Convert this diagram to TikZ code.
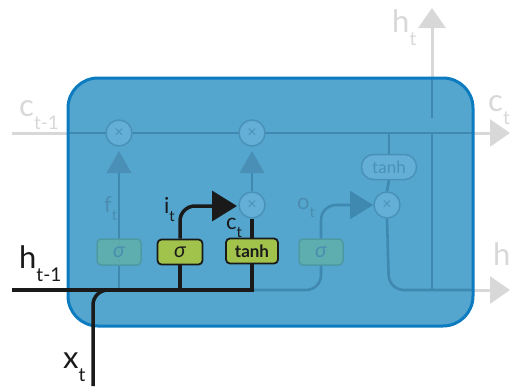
\documentclass[tikz,border=0pt]{standalone}
\usepackage{fontspec}
\setmainfont{Lato}
\usetikzlibrary{arrows.meta}
\definecolor{gry}{HTML}{D8D8D8}
\definecolor{boxfill}{HTML}{54A6CF}
\definecolor{boxedge}{HTML}{0C7BC0}
\definecolor{inln}{HTML}{3F88B0}
\definecolor{incirc}{HTML}{63AFD7}
\definecolor{incircd}{HTML}{4A91B8}
\definecolor{intri}{HTML}{4A8FB5}
\definecolor{fgfill}{HTML}{60AFAC}
\definecolor{fgdraw}{HTML}{4D9AA3}
\definecolor{fgtext}{HTML}{4A8DB0}
\definecolor{grn}{HTML}{A2C34B}
\definecolor{dk}{HTML}{1A1A1A}
\newcommand\lbsub[2]{#1\raisebox{-0.42em}{\fontsize{19}{19}\selectfont #2}}
\newcommand\smsub[2]{#1\raisebox{-0.4em}{\fontsize{15}{15}\selectfont #2}}
\begin{document}
\begin{tikzpicture}[x=1pt,y=-1pt,
  gline/.style={draw=gry,line width=3pt},
  iline/.style={draw=inln,line width=2.6pt},
  bline/.style={draw=dk,line width=3.5pt},
  gtip/.style={-{Triangle[length=20pt,width=27pt]}},
  mult/.style={circle,draw=incircd,fill=incirc,line width=1.5pt,minimum size=26pt,inner sep=0pt,text=incircd,font=\fontsize{16}{16}\selectfont},
  faintbox/.style={rectangle,rounded corners=4pt,draw=fgdraw,fill=fgfill,fill opacity=0.9,text opacity=1,line width=1.5pt,minimum width=44pt,minimum height=26pt,inner sep=0pt,text=fgtext,font=\itshape\fontsize{21}{21}\selectfont},
  gbox/.style={rectangle,rounded corners=4pt,draw=dk,fill=grn,line width=1.8pt,minimum height=25pt,inner sep=0pt,text=dk},
  biglbl/.style={inner sep=0pt,anchor=base west,font=\fontsize{31}{31}\selectfont},
  smlbl/.style={inner sep=0pt,anchor=base west,font=\fontsize{22}{22}\selectfont},
]
\useasboundingbox (0,0) rectangle (511,386);
% outer grey lines
\coordinate (cin) at (12,133);
\coordinate (cout) at (510,133);
\coordinate (htop) at (432,8);
\coordinate (hout) at (510,290);
\draw[gline,gtip] (cin) -- (cout);
\draw[gline,gtip] (432,90) -- (htop);
\draw[gline,gtip] (460,290) -- (hout);
% box
\node[draw=none,fill=boxfill,rounded corners=30pt,minimum width=405pt,minimum height=248pt,inner sep=0pt] (cell) at (270.5,202) {};
% inner lines
\draw[iline] (68,133) -- (473,133);
\draw[iline] (432,290) -- (432,133);
\draw[iline] (432,78) -- (432,118);
% forget gate
\node[mult] (fx) at (119,133) {×};
\fill[intri] (106.5,173) -- (119,151) -- (131.5,173) -- cycle;
\draw[iline] (119,290) -- (119,173);
\node[faintbox] (fs) at (119,252) {σ};
% input gate cross
\node[mult] (ix) at (252,133) {×};
\fill[intri] (239.5,173) -- (252,151) -- (264.5,173) -- cycle;
\node[mult] (cx) at (252,205) {×};
\draw[iline] (cx.north) -- (252,173);
% output gate
\node[faintbox] (os) at (321,252) {σ};
\draw[iline,rounded corners=15pt] (253,290) -- (321,290) -- (os.south);
\draw[iline,rounded corners=15pt,-{Triangle[length=23pt,width=28pt]}] (os.north) -- (321,205) -- (373,205);
\node[mult] (ox) at (387,205) {×};
\node[rectangle,rounded corners=12pt,draw=incircd,fill=incirc,line width=1.5pt,minimum width=55pt,minimum height=25pt,inner sep=0pt,text=incircd,font=\fontsize{17}{17}\selectfont] (tp) at (389,167) {tanh};
\draw[iline] (389,133) -- (tp.north);
\draw[iline] (tp.south) -- (ox.north);
\draw[iline,rounded corners=15pt] (ox.south) -- (389,290) -- (473,290);
% box border
\draw[boxedge,line width=3pt,rounded corners=30pt] (68,78) rectangle (473,326);
% faint labels
\node[smlbl,text=fgtext] (flab) at (104,212) {\smsub{f}{t}};
\node[smlbl,text=fgtext] (olab) at (297,209) {\smsub{o}{t}};
% highlighted black paths
\coordinate (hin) at (12,290);
\coordinate (xin) at (93,386);
\node[gbox,minimum width=45pt,font=\itshape\fontsize{21}{21}\selectfont] (is) at (180,252) {σ};
\node[gbox,minimum width=52pt,font=\bfseries\fontsize{17}{17}\selectfont] (tb) at (252,251) {tanh};
\draw[bline] (hin) -- (252,290) -- (tb.south);
\draw[bline,rounded corners=15pt] (xin) -- (93,290) -- (125,290);
\draw[bline] (180,290) -- (is.south);
\draw[bline,rounded corners=15pt,-{Triangle[length=25pt,width=30pt]}] (is.north) -- (180,206) -- (237,206);
\draw[bline] (tb.north) -- (cx.south);
% black labels
\node[smlbl,text=dk] (ilab) at (164,213) {\smsub{i}{t}};
\node[smlbl,text=dk] (clab) at (226,229) {\smsub{c}{t}};
\node[biglbl,text=dk] (hlab) at (19,268) {\lbsub{h}{t-1}};
\node[biglbl,text=dk] (xlab) at (63,368) {\lbsub{x}{t}};
% grey labels
\node[biglbl,text=gry] (cinlab) at (19,116) {\lbsub{c}{t-1}};
\node[biglbl,text=gry] (coutlab) at (488,111) {\lbsub{c}{t}};
\node[biglbl,text=gry] (htoplab) at (392,32) {\lbsub{h}{t}};
\node[biglbl,text=gry] (houtlab) at (493,265) {\lbsub{h}{t}};
\end{tikzpicture}
\end{document}
